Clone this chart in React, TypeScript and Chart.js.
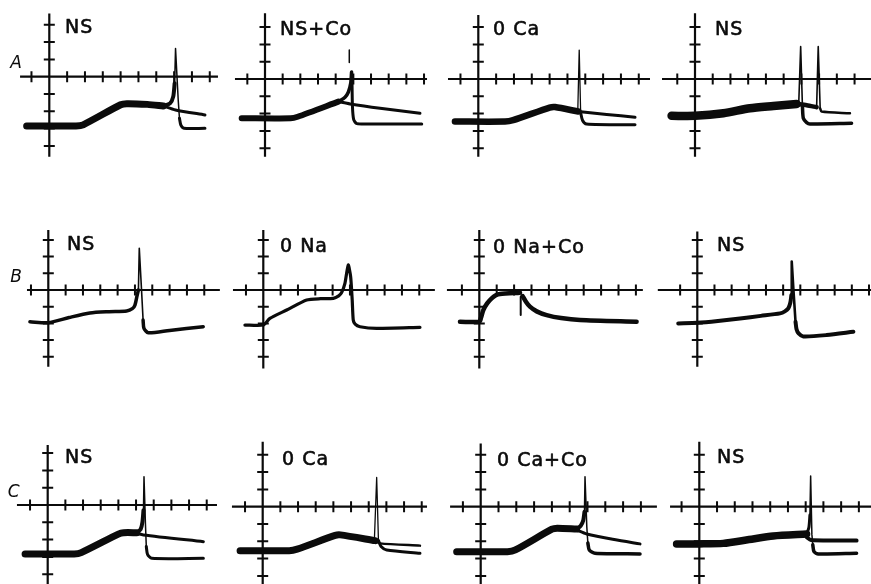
import { useEffect, useRef } from "react";
import { Chart, registerables } from "chart.js";

Chart.register(...registerables);

type Pt = [number, number];

// ---- Recorded membrane potential traces (x: time divisions, y: voltage divisions) ----

// Row A
const a1Sweep: Pt[] = [[-1.27, -2.85], [1.5, -2.85], [1.9, -2.78], [4.0, -1.62], [4.35, -1.56], [5.5, -1.6], [6.39, -1.69]];
const a1Rise: Pt[] = [[6.39, -1.69], [6.77, -1.54], [6.95, -1.15], [7.03, -0.38]];
const a1Spike: Pt[] = [[7.03, -0.38], [7.08, 1.63], [7.23, -1.35], [7.3, -2.4]];
const a1After: Pt[] = [[7.3, -2.4], [7.38, -2.8], [7.55, -2.98], [8.73, -2.98]];
const a1Sub: Pt[] = [[6.39, -1.69], [7.08, -1.92], [8.73, -2.21]];

const a2Sweep: Pt[] = [[-1.32, -2.27], [1.45, -2.27], [1.85, -2.18], [4.15, -1.31]];
const a2Rise: Pt[] = [[4.15, -1.31], [4.53, -1.05], [4.72, -0.75], [4.85, -0.25], [4.9, 0.4]];
const a2Peak: Pt[] = [[4.77, 0.95], [4.77, 1.67]];
const a2After: Pt[] = [[4.92, 0.2], [4.95, -1.6], [5.02, -2.35], [5.2, -2.58], [6.0, -2.6], [8.87, -2.6]];
const a2Sub: Pt[] = [[4.15, -1.31], [4.81, -1.44], [6.51, -1.69], [8.77, -1.98]];

const a3Sweep: Pt[] = [[-1.31, -2.46], [1.5, -2.46], [1.95, -2.38], [4.0, -1.65], [4.3, -1.62], [5.61, -1.88]];
const a3Spike: Pt[] = [[5.58, -1.85], [5.66, 1.67], [5.74, -1.95]];
const a3After: Pt[] = [[5.74, -1.95], [5.85, -2.4], [6.07, -2.6], [8.79, -2.65]];
const a3Sub: Pt[] = [[5.61, -1.88], [7.2, -2.05], [8.79, -2.21]];

const a4Band: Pt[] = [[-1.32, -2.13], [0, -2.13], [1.6, -1.98], [3.1, -1.69], [4.42, -1.56], [5.73, -1.44]];
const a4Spike1: Pt[] = [[5.85, -1.45], [5.96, 1.87], [6.06, -1.6]];
const a4After1: Pt[] = [[6.06, -1.6], [6.11, -2.27], [6.3, -2.52], [6.48, -2.6], [8.83, -2.56]];
const a4Mid: Pt[] = [[5.73, -1.44], [6.3, -1.52], [6.86, -1.63]];
const a4Spike2: Pt[] = [[6.86, -1.63], [6.95, 1.87], [7.06, -1.7]];
const a4Sub: Pt[] = [[7.06, -1.7], [7.14, -1.88], [8.74, -1.98]];

// Row B
const b1Trace: Pt[] = [[-1.06, -1.9], [0, -1.96], [1.2, -1.65], [2.4, -1.38], [3.5, -1.3], [4.52, -1.26], [4.85, -1.12], [5.0, -0.9], [5.12, -0.35], [5.2, 0]];
const b1Spike: Pt[] = [[5.2, 0], [5.25, 2.5], [5.38, 0], [5.47, -1.8]];
const b1After: Pt[] = [[5.47, -1.8], [5.52, -2.3], [5.77, -2.56], [7.0, -2.42], [8.94, -2.2]];

const b2Trace: Pt[] = [[-1.06, -2.1], [0, -2.1], [0.38, -1.7], [1.35, -1.2], [2.5, -0.6], [3.3, -0.52], [4.04, -0.5], [4.35, -0.35], [4.52, -0.15], [4.71, 0.4], [4.9, 1.5], [5.04, 0.8], [5.13, -0.6], [5.19, -1.8], [5.3, -2.05], [5.58, -2.2], [6.54, -2.3], [9.04, -2.24]];

const b3Rise: Pt[] = [[-1.11, -1.9], [0, -1.9], [0.1, -1.65], [0.23, -1.2], [0.45, -0.8], [0.71, -0.5], [0.95, -0.32], [1.19, -0.24], [2.34, -0.16]];
const b3Mark: Pt[] = [[2.38, -0.4], [2.38, -1.5]];
const b3Decay: Pt[] = [[2.49, -0.36], [2.68, -0.7], [2.91, -1.0], [3.3, -1.28], [3.87, -1.5], [4.7, -1.68], [5.79, -1.8], [9.04, -1.9]];

const b4Trace: Pt[] = [[-1.11, -2.0], [0, -1.96], [1.2, -1.85], [2.49, -1.7], [3.7, -1.55], [4.82, -1.4], [5.1, -1.28], [5.3, -1.1], [5.42, -0.75], [5.48, -0.3]];
const b4Spike: Pt[] = [[5.48, -0.3], [5.5, 1.7], [5.6, 0], [5.72, -1.9]];
const b4After: Pt[] = [[5.72, -1.9], [5.78, -2.35], [5.9, -2.6], [6.17, -2.78], [7.53, -2.7], [9.09, -2.5]];

// Row C
const c1Sweep: Pt[] = [[-1.28, -2.83], [1.5, -2.83], [1.9, -2.75], [4.0, -1.68], [4.3, -1.6], [5.04, -1.6]];
const c1Rise: Pt[] = [[5.04, -1.6], [5.26, -1.4], [5.36, -1.0], [5.42, -0.3]];
const c1Spike: Pt[] = [[5.42, -0.3], [5.45, 1.63], [5.53, -1.06], [5.58, -2.4]];
const c1After: Pt[] = [[5.58, -2.4], [5.65, -2.85], [5.89, -3.08], [8.81, -3.08]];
const c1Sub: Pt[] = [[5.04, -1.63], [5.42, -1.73], [8.81, -2.12]];

const c2Sweep: Pt[] = [[-1.28, -2.54], [1.5, -2.54], [1.95, -2.45], [4.1, -1.66], [4.4, -1.63], [6.36, -1.96]];
const c2Spike: Pt[] = [[6.32, -1.93], [6.45, 1.69], [6.55, -1.95]];
const c2After: Pt[] = [[6.55, -1.95], [6.7, -2.3], [7.02, -2.5], [8.9, -2.69]];
const c2Sub: Pt[] = [[6.36, -1.96], [6.64, -2.12], [8.9, -2.25]];

const c3Sweep: Pt[] = [[-1.35, -2.6], [1.5, -2.6], [1.95, -2.5], [4.0, -1.3], [4.3, -1.24], [5.39, -1.29]];
const c3Rise: Pt[] = [[5.39, -1.29], [5.62, -1.1], [5.76, -0.8], [5.83, -0.3]];
const c3Spike: Pt[] = [[5.83, -0.3], [5.86, 1.73], [5.96, -1.15], [6.02, -2.1]];
const c3After: Pt[] = [[6.02, -2.1], [6.1, -2.5], [6.42, -2.69], [8.95, -2.73]];
const c3Sub: Pt[] = [[5.39, -1.35], [5.96, -1.58], [7.5, -1.9], [8.95, -2.15]];

const c4Band: Pt[] = [[-1.28, -2.15], [0, -2.15], [1.35, -2.12], [2.8, -1.9], [4.17, -1.69], [6.05, -1.58]];
const c4Rise: Pt[] = [[6.05, -1.58], [6.18, -1.2], [6.24, -0.48]];
const c4Spike: Pt[] = [[6.24, -0.48], [6.28, 1.77], [6.35, -1.6], [6.4, -2.2]];
const c4After: Pt[] = [[6.4, -2.2], [6.47, -2.6], [6.71, -2.73], [8.87, -2.69]];
const c4Sub: Pt[] = [[6.05, -1.75], [6.3, -1.92], [8.87, -1.96]];

// ---- Labels and graticule ticks ----
const rowLetters = ["A", "B", "C"];
const panelTitles = ["NS", "NS+Co", "0 Ca", "NS", "NS", "0 Na", "0 Na+Co", "NS", "NS", "0 Ca", "0 Ca+Co", "NS"];
const timeTicks = [-1, 1, 2, 3, 4, 5, 6, 7, 8, 9];
const timeTicksLong = [-1, 1, 2, 3, 4, 5, 6, 7, 8, 9, 10];
const voltTicks = [-4, -3, -2, -1, 1, 2, 3];

// ---- Layout and styling ----
const INK = "#0b0b0b";
const X_MIN = -2.6;
const X_SPAN = 13.2;
const Y_MAX = 4.4;
const Y_SPAN = 9.8;

type Trace = { pts: Pt[]; w: number; t?: number };
type PanelCfg = {
  ox: number; oy: number; ux: number; uy: number;
  h: [number, number]; v: [number, number];
  title: string; tdx: number; tdy: number;
  ticks: number[];
  letter?: string; ldx?: number; ldy?: number;
  traces: Trace[];
};

const S = 0.25; // smoothing for slow sweeps

const panels: PanelCfg[] = [
  {
    ox: 49.3, oy: 76.7, ux: 17.83, uy: 17.3, h: [-1.64, 9.46], v: [3.66, -4.62],
    title: panelTitles[0], tdx: 15.7, tdy: -43.7, ticks: timeTicks,
    letter: rowLetters[0], ldx: -39, ldy: -9,
    traces: [
      { pts: a1Sweep, w: 7, t: S }, { pts: a1Sub, w: 3, t: S }, { pts: a1Rise, w: 4, t: S },
      { pts: a1Spike, w: 1.5 }, { pts: a1After, w: 3, t: S },
    ],
  },
  {
    ox: 265, oy: 79, ux: 17.67, uy: 17.3, h: [-1.7, 9.17], v: [3.8, -4.5],
    title: panelTitles[1], tdx: 15, tdy: -44, ticks: timeTicks,
    traces: [
      { pts: a2Sweep, w: 6, t: S }, { pts: a2Sub, w: 3, t: S }, { pts: a2Rise, w: 3.5, t: S },
      { pts: a2Peak, w: 1.5 }, { pts: a2After, w: 3, t: S },
    ],
  },
  {
    ox: 478.3, oy: 79, ux: 17.83, uy: 17.3, h: [-1.7, 9.63], v: [3.7, -4.5],
    title: panelTitles[2], tdx: 14.7, tdy: -44, ticks: timeTicks,
    traces: [
      { pts: a3Sweep, w: 6.5, t: S }, { pts: a3Sub, w: 3, t: S },
      { pts: a3Spike, w: 1.3 }, { pts: a3After, w: 3, t: S },
    ],
  },
  {
    ox: 695, oy: 79, ux: 17.73, uy: 17.3, h: [-1.86, 10.2], v: [3.8, -4.5],
    title: panelTitles[3], tdx: 20, tdy: -44, ticks: timeTicks,
    traces: [
      { pts: a4Band, w: 8.5, t: S }, { pts: a4Mid, w: 4.5, t: S }, { pts: a4Sub, w: 2.5, t: S },
      { pts: a4Spike1, w: 1.6 }, { pts: a4After1, w: 3.5, t: S }, { pts: a4Spike2, w: 1.6 },
    ],
  },
  {
    ox: 48.3, oy: 290, ux: 17.33, uy: 16.7, h: [-1.23, 9.9], v: [3.6, -4.6],
    title: panelTitles[4], tdx: 18.7, tdy: -40, ticks: timeTicks,
    letter: rowLetters[1], ldx: -38, ldy: -8,
    traces: [
      { pts: b1Trace, w: 3.5, t: S }, { pts: b1Spike, w: 1.6 }, { pts: b1After, w: 3.5, t: S },
    ],
  },
  {
    ox: 263.3, oy: 290, ux: 17.33, uy: 16.7, h: [-1.75, 9.9], v: [3.6, -4.7],
    title: panelTitles[5], tdx: 16.7, tdy: -38, ticks: timeTicks,
    traces: [{ pts: b2Trace, w: 3.2, t: 0.2 }],
  },
  {
    ox: 479.3, oy: 290, ux: 17.4, uy: 16.7, h: [-1.86, 9.4], v: [3.6, -4.7],
    title: panelTitles[6], tdx: 13.7, tdy: -37, ticks: timeTicks,
    traces: [
      { pts: b3Rise, w: 4.5, t: S }, { pts: b3Mark, w: 2 }, { pts: b3Decay, w: 4.5, t: S },
    ],
  },
  {
    ox: 697.3, oy: 290, ux: 17.17, uy: 16.7, h: [-2.3, 10.3], v: [3.5, -4.6],
    title: panelTitles[7], tdx: 19.7, tdy: -39, ticks: timeTicksLong,
    traces: [
      { pts: b4Trace, w: 4, t: S }, { pts: b4Spike, w: 2.6 }, { pts: b4After, w: 4, t: S },
    ],
  },
  {
    ox: 47.7, oy: 505, ux: 17.67, uy: 17.3, h: [-1.74, 9.58], v: [3.47, -5.3],
    title: panelTitles[8], tdx: 17.3, tdy: -42, ticks: timeTicks,
    letter: rowLetters[2], ldx: -40, ldy: -8,
    traces: [
      { pts: c1Sweep, w: 7, t: S }, { pts: c1Sub, w: 3, t: S }, { pts: c1Rise, w: 4, t: S },
      { pts: c1Spike, w: 1.5 }, { pts: c1After, w: 3, t: S },
    ],
  },
  {
    ox: 262.7, oy: 506.7, ux: 17.67, uy: 17.3, h: [-1.74, 9.3], v: [3.76, -5.3],
    title: panelTitles[9], tdx: 19.3, tdy: -42, ticks: timeTicks,
    traces: [
      { pts: c2Sweep, w: 7, t: S }, { pts: c2Sub, w: 2.5, t: S },
      { pts: c2Spike, w: 1.3 }, { pts: c2After, w: 3, t: S },
    ],
  },
  {
    ox: 480.7, oy: 506.7, ux: 17.8, uy: 17.3, h: [-1.72, 9.9], v: [3.66, -5.3],
    title: panelTitles[10], tdx: 16.3, tdy: -41, ticks: timeTicks,
    traces: [
      { pts: c3Sweep, w: 7, t: S }, { pts: c3Sub, w: 3, t: S }, { pts: c3Rise, w: 4, t: S },
      { pts: c3Spike, w: 1.5 }, { pts: c3After, w: 3.5, t: S },
    ],
  },
  {
    ox: 699.3, oy: 506.7, ux: 17.73, uy: 17.3, h: [-1.65, 10.2], v: [3.76, -5.3],
    title: panelTitles[11], tdx: 17.7, tdy: -44, ticks: timeTicks,
    traces: [
      { pts: c4Band, w: 7.5, t: S }, { pts: c4Sub, w: 4, t: S }, { pts: c4Rise, w: 3, t: S },
      { pts: c4Spike, w: 1.5 }, { pts: c4After, w: 3.5, t: S },
    ],
  },
];

function Panel({ p }: { p: PanelCfg }) {
  const ref = useRef<HTMLCanvasElement>(null);
  const left = Math.round(p.ox + X_MIN * p.ux);
  const top = Math.round(p.oy - Y_MAX * p.uy);
  const width = Math.round(X_SPAN * p.ux);
  const height = Math.round(Y_SPAN * p.uy);
  const xMin = (left - p.ox) / p.ux;
  const xMax = xMin + width / p.ux;
  const yMax = (p.oy - top) / p.uy;
  const yMin = yMax - height / p.uy;

  useEffect(() => {
    const canvas = ref.current;
    if (!canvas) return;

    // Cross-shaped graticule, condition label and row letter
    const graticule = {
      id: "graticule",
      beforeDatasetsDraw(chart: Chart) {
        const ctx = chart.ctx;
        const xs = chart.scales.x;
        const ys = chart.scales.y;
        const X = (v: number) => xs.getPixelForValue(v);
        const Y = (v: number) => ys.getPixelForValue(v);
        const x0 = X(0);
        const y0 = Y(0);
        const half = 5.5;
        ctx.save();
        ctx.strokeStyle = INK;
        ctx.lineWidth = 2.2;
        ctx.lineCap = "butt";
        ctx.beginPath();
        ctx.moveTo(X(p.h[0]), y0);
        ctx.lineTo(X(p.h[1]), y0);
        ctx.moveTo(x0, Y(p.v[0]));
        ctx.lineTo(x0, Y(p.v[1]));
        ctx.stroke();
        ctx.lineWidth = 2;
        ctx.beginPath();
        for (const t of p.ticks) {
          ctx.moveTo(X(t), y0 - half);
          ctx.lineTo(X(t), y0 + half);
        }
        for (const t of voltTicks) {
          ctx.moveTo(x0 - half, Y(t));
          ctx.lineTo(x0 + half, Y(t));
        }
        ctx.stroke();

        ctx.fillStyle = INK;
        ctx.strokeStyle = INK;
        ctx.lineWidth = 0.6;
        ctx.lineJoin = "round";
        ctx.textBaseline = "alphabetic";
        ctx.textAlign = "left";
        ctx.font = '19px "DejaVu Sans"';
        (ctx as any).letterSpacing = "1px";
        ctx.fillText(p.title, x0 + p.tdx, y0 + p.tdy);
        ctx.strokeText(p.title, x0 + p.tdx, y0 + p.tdy);
        if (p.letter) {
          (ctx as any).letterSpacing = "0px";
          ctx.font = 'italic 17px "DejaVu Sans"';
          ctx.fillText(p.letter, x0 + (p.ldx ?? 0), y0 + (p.ldy ?? 0));
        }
        ctx.restore();
      },
    };

    const chart = new Chart(canvas, {
      type: "line",
      data: {
        datasets: p.traces.map((tr) => ({
          data: tr.pts.map(([x, y]) => ({ x, y })),
          borderColor: INK,
          borderWidth: tr.w,
          tension: tr.t ?? 0,
          pointRadius: 0,
          fill: false,
          borderCapStyle: "round" as const,
          borderJoinStyle: "round" as const,
        })),
      },
      options: {
        animation: false,
        responsive: false,
        maintainAspectRatio: false,
        events: [],
        layout: { padding: 0 },
        plugins: { legend: { display: false }, tooltip: { enabled: false } },
        scales: {
          x: { type: "linear", min: xMin, max: xMax, display: false },
          y: { type: "linear", min: yMin, max: yMax, display: false },
        },
      },
      plugins: [graticule],
    });
    return () => chart.destroy();
  }, []);

  return (
    <canvas
      ref={ref}
      width={width}
      height={height}
      style={{ position: "absolute", left, top, width, height }}
    />
  );
}

export default function App() {
  return (
    <div
      style={{
        position: "fixed",
        left: 0,
        top: 0,
        width: 871,
        height: 584,
        overflow: "hidden",
        background: "#fff",
      }}
    >
      {panels.map((p, i) => (
        <Panel key={i} p={p} />
      ))}
    </div>
  );
}
